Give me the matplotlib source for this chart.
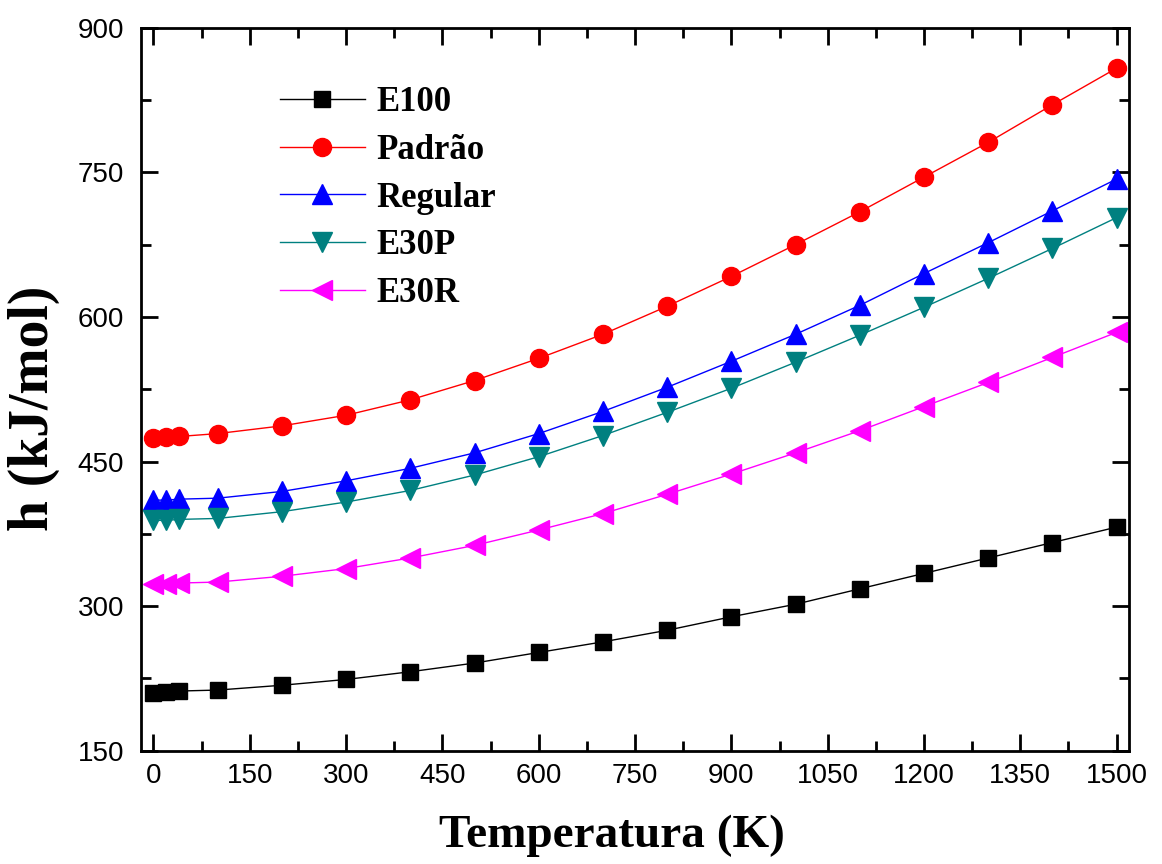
import matplotlib
matplotlib.use("Agg")
import matplotlib.pyplot as plt
from matplotlib.ticker import MultipleLocator

# temperatures (K)
temp = [0, 20, 40, 100, 200, 300, 400, 500, 600, 700, 800, 900, 1000, 1100, 1200, 1300, 1400, 1500]

# enthalpy h (kJ/mol)
e100 = [210, 211, 212, 213, 218, 224, 232, 241, 252, 263, 275, 289, 302, 318, 334, 350, 366, 382]
padrao = [474, 475, 476, 479, 487, 498, 514, 534, 557, 582, 611, 642, 675, 709, 745, 781, 820, 858]
regular = [410, 410, 411, 412, 419, 430, 443, 459, 479, 502, 527, 554, 582, 612, 645, 677, 710, 743]
e30p = [389, 389, 390, 391, 398, 408, 420, 436, 455, 477, 501, 526, 553, 581, 610, 640, 671, 703]
e30r = [323, 323, 324, 325, 331, 339, 350, 363, 379, 396, 416, 437, 459, 482, 507, 532, 558, 584]

fig = plt.figure(figsize=(11.62, 8.64), dpi=100)
ax = fig.add_axes([0.121, 0.131, 0.851, 0.837])

ax.plot(temp, e100, color='black', lw=1, marker='s', ms=12, label='E100')
ax.plot(temp, padrao, color='#ff0000', lw=1, marker='o', ms=13, label='Padrão')
ax.plot(temp, regular, color='#0000ff', lw=1, marker='^', ms=14, label='Regular')
ax.plot(temp, e30p, color='#008080', lw=1, marker='v', ms=14, label='E30P')
ax.plot(temp, e30r, color='#ff00ff', lw=1, marker='<', ms=14, label='E30R')

ax.set_xlim(-20, 1520)
ax.set_ylim(150, 900)
ax.xaxis.set_major_locator(MultipleLocator(150))
ax.xaxis.set_minor_locator(MultipleLocator(75))
ax.yaxis.set_major_locator(MultipleLocator(150))
ax.yaxis.set_minor_locator(MultipleLocator(75))
ax.tick_params(which='both', direction='in', top=True, right=True, width=2,
               labelsize=20)
ax.tick_params(which='major', length=12)
ax.tick_params(which='minor', length=7)
ax.tick_params(axis='x', pad=9)
ax.tick_params(axis='y', pad=12)
for lab in ax.get_xticklabels() + ax.get_yticklabels():
    lab.set_fontfamily('Liberation Sans')
for s in ax.spines.values():
    s.set_linewidth(2)

ax.set_xlabel('Temperatura (K)', fontfamily='Liberation Serif', fontweight='bold',
              fontsize=34)
ax.set_ylabel('h (kJ/mol)', fontfamily='Liberation Serif', fontweight='bold',
              fontsize=40)
ax.xaxis.set_label_coords(0.477, -0.088)
ax.yaxis.set_label_coords(-0.082, 0.473)

ax.legend(loc='upper left', bbox_to_anchor=(0.109, 0.962), frameon=False,
          prop={'family': 'Liberation Serif', 'weight': 'bold', 'size': 25},
          handlelength=2.45, labelspacing=0.42, handletextpad=0.35)

fig.savefig('out.png', dpi=100)
